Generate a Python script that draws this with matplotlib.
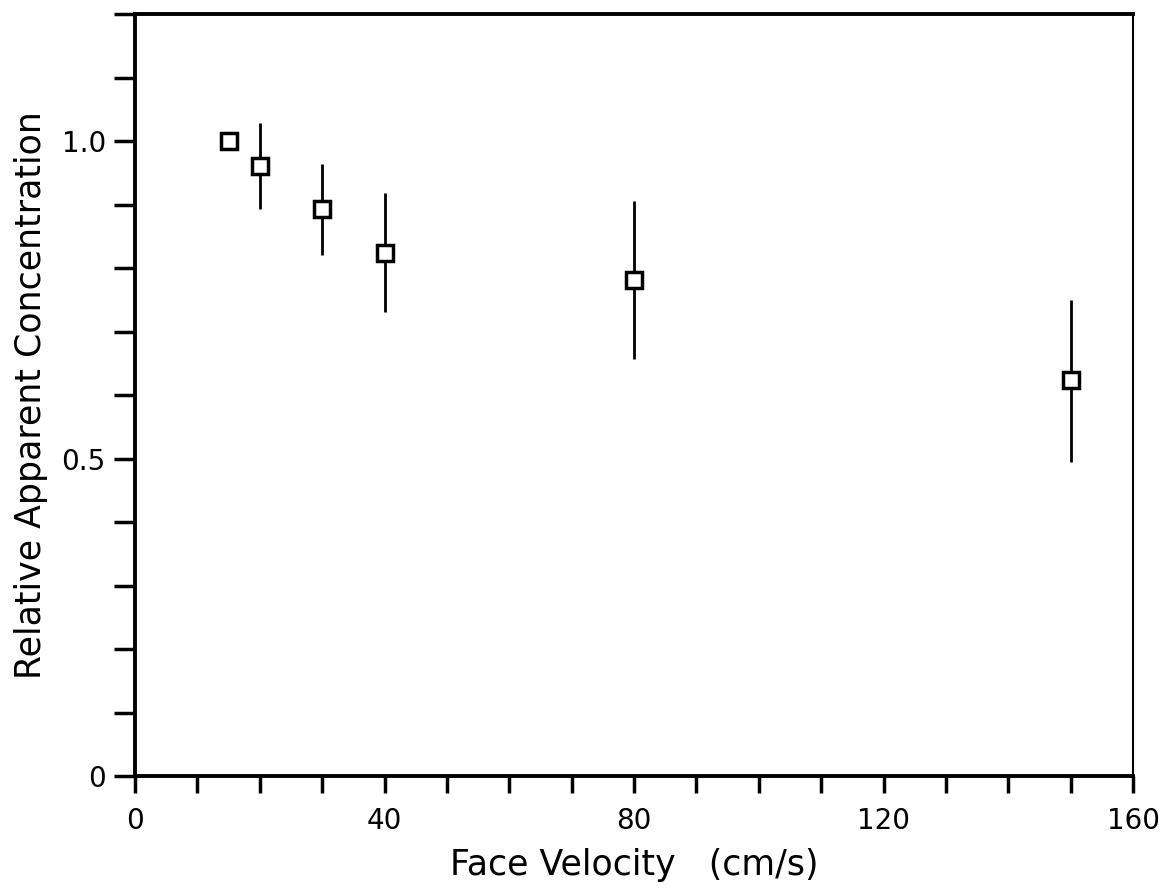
import numpy as np
import matplotlib
matplotlib.use("Agg")
import matplotlib.pyplot as plt

# Données
velocity = [15, 20, 30, 40, 80, 150]
concentration = [1.0, 0.961, 0.893, 0.824, 0.781, 0.623]
err_low = [0.0, 0.068, 0.072, 0.094, 0.125, 0.128]
err_high = [0.0, 0.067, 0.071, 0.094, 0.125, 0.127]

x_ticks = [0, 40, 80, 120, 160]
x_ticklabels = ["0", "40", "80", "120", "160"]
y_ticks = [0, 0.5, 1.0]
y_ticklabels = ["0", "0.5", "1.0"]

plt.rcParams["font.family"] = ["DejaVu Sans"]

fig = plt.figure(figsize=(11.66, 8.88), dpi=100)
ax = fig.add_axes([0.1158, 0.1261, 0.8559, 0.8581])

ax.errorbar(velocity, concentration, yerr=[err_low, err_high],
            fmt="none", ecolor="black", elinewidth=2.0, capsize=0)
ax.plot(velocity, concentration, linestyle="none", marker="s",
        markersize=11, markerfacecolor="white", markeredgecolor="black",
        markeredgewidth=2.5, zorder=3)

ax.set_xlim(0, 160)
ax.set_ylim(0, 1.2)

ax.set_xticks(x_ticks)
ax.set_xticklabels(x_ticklabels)
ax.set_xticks(np.arange(0, 161, 10), minor=True)
ax.set_yticks(y_ticks)
ax.set_yticklabels(y_ticklabels)
ax.set_yticks(np.arange(0, 1.21, 0.1), minor=True)

ax.tick_params(which="both", direction="out", width=2.5, colors="black",
               labelsize=20)
ax.tick_params(axis="x", which="both", length=12, pad=10)
ax.tick_params(axis="y", which="both", length=15, pad=6)

for side in ["left", "bottom", "top"]:
    ax.spines[side].set_linewidth(2.8)
ax.spines["right"].set_linewidth(1.5)

ax.set_xlabel("Face Velocity   (cm/s)", fontsize=25, labelpad=10)
ax.set_ylabel("Relative Apparent Concentration", fontsize=25, labelpad=10)

fig.savefig("out.png", dpi=100)
